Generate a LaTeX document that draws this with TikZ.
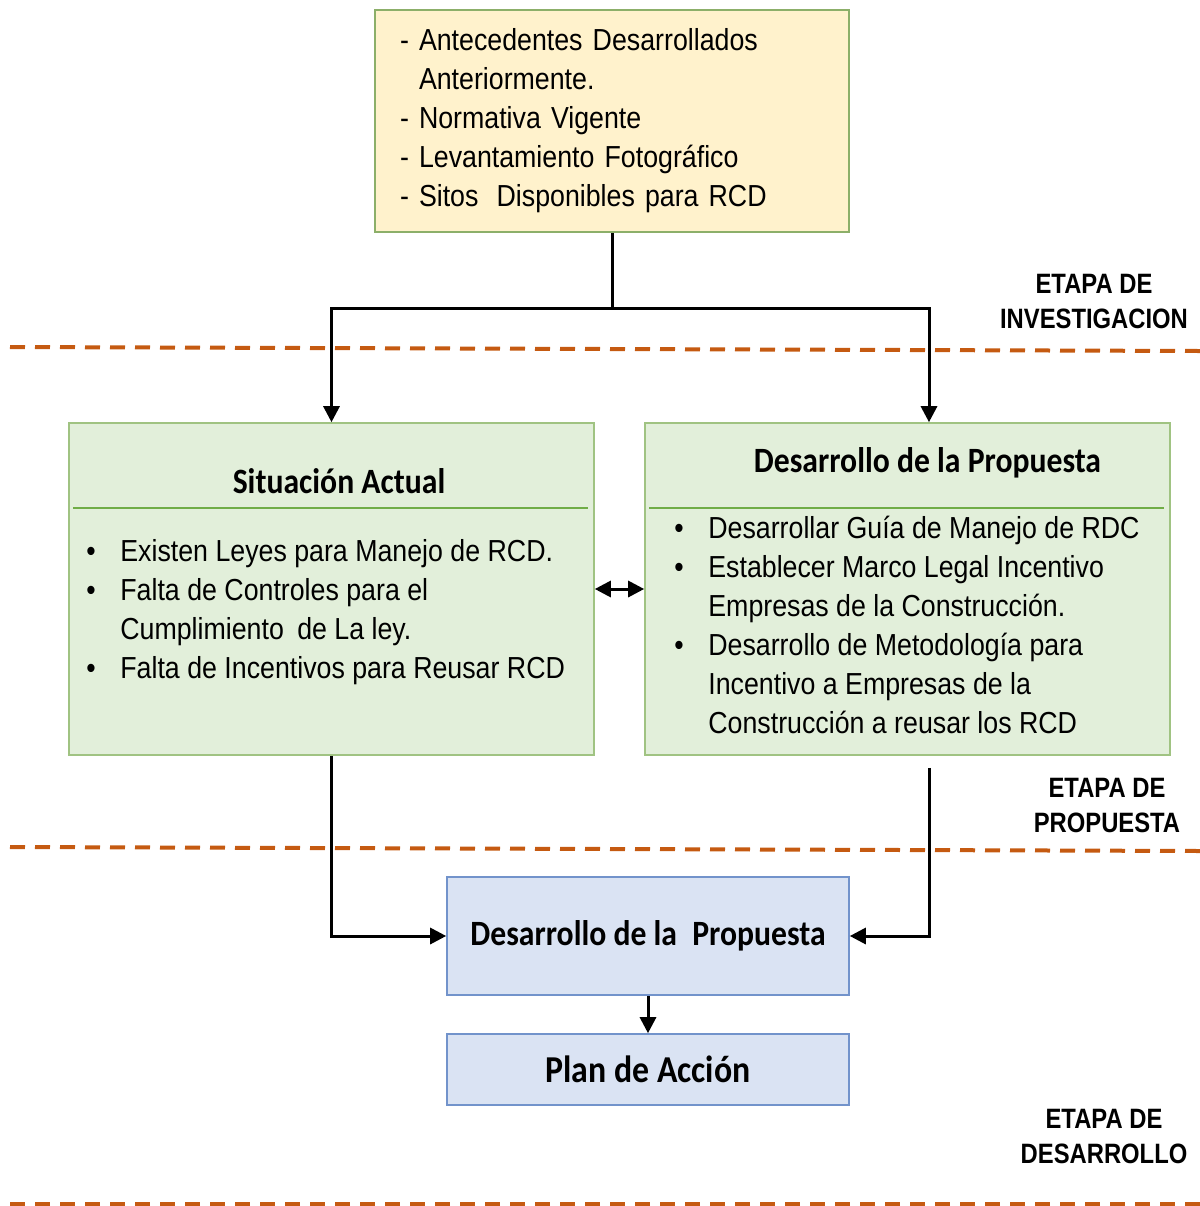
\documentclass[tikz,border=0pt]{standalone}
\usepackage{fontspec}
\setmainfont{Liberation Sans}[FakeStretch=0.88]
\newfontfamily\headfont{Carlito}[FakeStretch=0.89]
\newfontfamily\etapafont{Liberation Sans}[FakeStretch=0.85]
\usetikzlibrary{arrows.meta}

\definecolor{notefill}{RGB}{255,242,204}
\definecolor{notedraw}{RGB}{140,175,105}
\definecolor{sitfill}{RGB}{226,239,218}
\definecolor{sitdraw}{RGB}{160,195,130}
\definecolor{sitrule}{RGB}{112,173,71}
\definecolor{devfill}{RGB}{218,227,243}
\definecolor{devdraw}{RGB}{114,147,203}
\definecolor{etapa}{RGB}{197,90,17}
\newcommand\bodysize{\fontsize{15.2}{19.5}\selectfont}
\newcommand\headsize{\headfont\bfseries\fontsize{17.8}{21}\selectfont}

\begin{document}
\begin{tikzpicture}[x=0.5pt,y=-0.5pt,>={Triangle[length=8pt,width=8pt]},
    link/.style={line width=1.5pt},
    box/.style={draw,line width=0.8pt,inner sep=0pt},
    note box/.style={box,fill=notefill,draw=notedraw,minimum width=237pt,minimum height=111pt,
                     text width=212pt,align=left,inner xsep=12.5pt,font=\bodysize},
    sit box/.style={box,fill=sitfill,draw=sitdraw,minimum width=262.5pt,minimum height=166pt},
    dev box/.style={box,fill=devfill,draw=devdraw,minimum width=201pt,font=\headsize},
    head/.style={font=\headsize,inner sep=0pt,anchor=base},
    items/.style={font=\bodysize,inner sep=0pt,anchor=base west},
    etapa label/.style={font=\etapafont\bfseries\fontsize{14}{17.5}\selectfont,align=center,inner sep=0pt},
    stage line/.style={draw=etapa,line width=2pt,dash pattern=on 7.5pt off 5pt}]

    \useasboundingbox (0,0) rectangle (1200,1206);

    \draw[stage line] (10,347) -- (1200,351);
    \draw[stage line] (10,847) -- (1200,851);
    \draw[stage line] (10,1204) -- (1200,1204);

    \node[note box] (antec) at (612,121) {- Antecedentes Desarrollados\\
        \hspace*{9.5pt}Anteriormente.\\
        - Normativa Vigente\\
        - Levantamiento Fotográfico\\
        - Sitos\hspace{4pt} Disponibles para RCD};

    \node[sit box] (actual) at (331.5,589) {};
    \node[sit box, right of=actual, node distance=288pt] (propuesta) {};

    \node[head] (actualtit) at (339,493) {Situación Actual};
    \node[head] (propuestatit) at (927.5,472) {Desarrollo de la Propuesta};
    \draw[sitrule, line width=1.3pt] (73,508) -- (588,508);
    \draw[sitrule, line width=1.3pt] (649,508) -- (1164,508);

    \node[items] (actuallist) at (86,561) {\begin{tabular}[t]{@{}p{17pt}@{}l@{}}
        \textbullet & Existen Leyes para Manejo de RCD.\\
        \textbullet & Falta de Controles para el\\
                    & Cumplimiento\hspace{3pt} de La ley.\\
        \textbullet & Falta de Incentivos para Reusar RCD
    \end{tabular}};
    \node[items] (propuestalist) at (674,538) {\begin{tabular}[t]{@{}p{17pt}@{}l@{}}
        \textbullet & Desarrollar Guía de Manejo de RDC\\
        \textbullet & Establecer Marco Legal Incentivo\\
                    & Empresas de la Construcción.\\
        \textbullet & Desarrollo de Metodología para\\
                    & Incentivo a Empresas de la\\
                    & Construcción a reusar los RCD
    \end{tabular}};

    \node[dev box, minimum height=59pt] (dev) at (648,936) {Desarrollo de la\hspace{4pt} Propuesta};
    \node[dev box, minimum height=35.5pt, below of=dev, node distance=66.75pt,
          font=\headfont\bfseries\fontsize{19}{22}\selectfont] (plan) {Plan de Acción};

    \node[etapa label] (invest) at (1094,301) {ETAPA DE\\INVESTIGACION};
    \node[etapa label] (propst) at (1107,805) {ETAPA DE\\PROPUESTA};
    \node[etapa label] (desarr) at (1104,1136) {ETAPA DE\\DESARROLLO};

    \path (antec.south) ++(0,76) coordinate (split);
    \path ([xshift=10.75pt]propuesta.south) ++(0,12) coordinate (propout);

    \draw[link] (antec.south) -- (split);
    \draw[link,->] (split) -| (actual.north);
    \draw[link,->] (split) -| ([xshift=10.75pt]propuesta.north);
    \draw[link,<->] (actual.east) -- (propuesta.west);
    \draw[link,->] (actual.south) |- (dev.west);
    \draw[link,->] (propout) |- (dev.east);
    \draw[link,->] (dev) -- (plan);
\end{tikzpicture}
\end{document}
